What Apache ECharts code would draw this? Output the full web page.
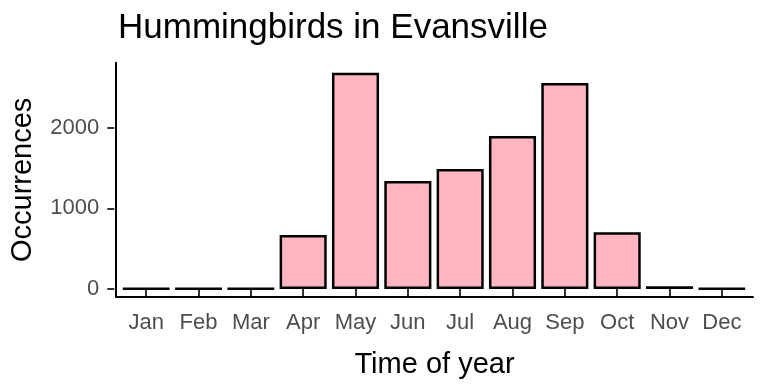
<!DOCTYPE html>
<html>
<head>
<meta charset="utf-8">
<script src="https://cdn.jsdelivr.net/npm/echarts@6/dist/echarts.min.js"></script>
<style>html,body{margin:0;padding:0;background:#fff}#c{width:768px;height:384px}</style>
</head>
<body>
<div id="c"></div>
<script>
const months = ['Jan','Feb','Mar','Apr','May','Jun','Jul','Aug','Sep','Oct','Nov','Dec'];
const occurrences = [4, 4, 4, 670, 2680, 1338, 1487, 1897, 2553, 703, 35, 6];
const yTicks = [0, 1000, 2000];
const titleText = 'Hummingbirds in Evansville';
const xName = 'Time of year';
const yName = 'Occurrences';

const FONT = '"Liberation Sans", Arial, Helvetica, sans-serif';
const chart = echarts.init(document.getElementById('c'), null, {renderer: 'canvas'});
chart.setOption({
  animation: false,
  backgroundColor: '#ffffff',
  title: {
    text: titleText, left: 113, top: 6,
    textStyle: {fontFamily: FONT, fontSize: 35, fontWeight: 'normal', color: '#000'}
  },
  grid: [
    {left: 120, right: 20, top: 47.05, bottom: 95},
    {left: 114.3, right: 15, top: 62.7, bottom: 85.7}
  ],
  xAxis: [
    {
      type: 'category', gridIndex: 0, data: months, offset: 9.3,
      boundaryGap: true,
      axisLine: {show: false},
      axisTick: {show: true, alignWithLabel: true, length: 7, lineStyle: {color: '#333', width: 2}},
      axisLabel: {fontFamily: FONT, fontSize: 22, color: '#4d4d4d', margin: 14, interval: 0},
      splitLine: {show: false}
    },
    {
      type: 'value', gridIndex: 1, min: 0, max: 1,
      axisLine: {show: true, onZero: false, lineStyle: {color: '#000', width: 2}},
      axisTick: {show: false}, axisLabel: {show: false}, splitLine: {show: false},
      name: xName, nameLocation: 'middle', nameGap: 53,
      nameTextStyle: {fontFamily: FONT, fontSize: 29, color: '#000'}
    }
  ],
  yAxis: [
    {
      type: 'value', gridIndex: 0, min: 0, max: 3000, offset: 5.7,
      axisLine: {show: false},
      axisTick: {show: true, length: 7, customValues: yTicks, lineStyle: {color: '#333', width: 2}},
      axisLabel: {fontFamily: FONT, fontSize: 22, color: '#4d4d4d', margin: 15, customValues: yTicks,
        formatter: v => String(v)},
      splitLine: {show: false}
    },
    {
      type: 'value', gridIndex: 1, min: 0, max: 1,
      axisLine: {show: true, onZero: false, lineStyle: {color: '#000', width: 2}},
      axisTick: {show: false}, axisLabel: {show: false}, splitLine: {show: false},
      name: yName, nameLocation: 'middle', nameGap: 79, nameRotate: 90,
      nameTextStyle: {fontFamily: FONT, fontSize: 29, color: '#000'}
    }
  ],
  series: [{
    type: 'bar', xAxisIndex: 0, yAxisIndex: 0,
    data: occurrences,
    barCategoryGap: '10%',
    itemStyle: {color: '#FFB6C1', borderColor: '#000', borderWidth: 2.5}
  }]
});
</script>
</body>
</html>
